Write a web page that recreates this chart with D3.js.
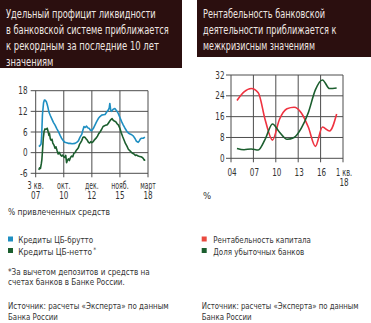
<!DOCTYPE html>
<html><head><meta charset="utf-8">
<script src="https://cdn.jsdelivr.net/npm/d3@7"></script>
<style>body{margin:0;background:#fff}svg{display:block}</style></head>
<body><svg id="c" width="371" height="323"></svg>
<script>
const FONT = '"Liberation Sans Narrow","DejaVu Sans Condensed","Roboto",sans-serif';

// ---------- Left chart data ----------
const leftTickLabels = [["3 кв.","07"],["окт.","10"],["дек.","12"],["нояб.","15"],["март","18"]];
const leftYTicks = [-6,0,6,12,18];
const grossX = [0.11,0.15,0.19,0.21,0.24,0.28,0.31,0.34,0.38,0.41,0.44,0.47,0.52,0.57,0.63,0.69,0.75,0.81,0.87,0.92,0.98,1.04,1.10,1.16,1.22,1.30,1.40,1.46,1.52,1.58,1.64,1.68,1.72,1.76,1.81,1.86,1.91,1.95,1.99,2.05,2.11,2.17,2.23,2.29,2.35,2.41,2.47,2.53,2.58,2.62,2.64,2.67,2.70,2.76,2.82,2.88,2.94,3.00,3.06,3.12,3.18,3.24,3.30,3.36,3.42,3.48,3.53,3.59,3.65,3.69,3.73,3.77,3.83,3.89];
const grossY = [1.8,2.0,2.5,4.5,11.0,14.5,15.3,15.2,14.8,14.0,13.0,11.8,10.8,9.9,8.8,8.0,7.0,6.1,5.0,4.2,3.5,3.0,2.9,2.7,2.7,2.6,2.7,3.0,3.4,4.5,5.3,6.5,7.6,7.3,7.7,7.2,7.0,6.5,6.4,7.0,8.0,9.0,9.9,10.5,10.9,11.0,11.1,11.8,12.3,13.0,14.3,12.4,12.0,12.6,12.8,12.2,11.4,10.2,9.0,8.0,7.1,6.3,5.7,5.4,5.2,4.8,4.2,3.3,3.0,3.4,4.0,4.2,4.2,4.5];
const netX = [0.11,0.14,0.17,0.20,0.22,0.25,0.27,0.30,0.33,0.37,0.41,0.44,0.47,0.49,0.52,0.55,0.58,0.61,0.65,0.69,0.72,0.76,0.80,0.84,0.88,0.92,0.96,1.00,1.04,1.07,1.10,1.13,1.17,1.20,1.24,1.28,1.32,1.36,1.40,1.44,1.48,1.52,1.56,1.60,1.64,1.68,1.72,1.76,1.80,1.84,1.88,1.92,1.96,2.00,2.05,2.10,2.15,2.20,2.25,2.30,2.35,2.40,2.45,2.50,2.55,2.60,2.64,2.68,2.72,2.76,2.80,2.85,2.90,2.95,3.00,3.05,3.10,3.15,3.20,3.25,3.30,3.35,3.40,3.45,3.50,3.55,3.60,3.65,3.70,3.75,3.80,3.84,3.87,3.90];
const netY = [-5.0,-4.4,-4.6,-3.2,-2.0,1.5,4.2,6.2,6.9,6.8,7.1,6.2,5.0,5.6,4.0,3.6,3.9,2.8,2.2,1.3,1.7,0.6,-0.4,0.1,-0.6,-1.0,-0.7,-1.2,-1.4,-0.8,-2.9,-2.2,-1.8,-2.3,-1.4,-1.0,-1.2,-0.2,0.0,0.6,1.0,1.4,2.4,2.9,3.5,4.4,4.6,4.4,4.0,3.6,3.0,2.8,3.2,2.9,3.2,3.8,4.2,4.8,5.6,6.1,6.8,7.6,7.8,8.0,8.1,8.7,9.2,9.6,9.9,9.4,9.2,9.0,8.4,8.0,7.0,5.7,4.6,3.6,2.6,1.9,1.0,0.6,0.2,-0.2,-0.4,-0.8,-0.7,-1.0,-1.1,-1.2,-1.4,-1.8,-2.2,-2.0];

// ---------- Right chart data ----------
const rightYears = [2004.8,2005.75,2006.7,2007.65,2008.6,2009.55,2010.5,2011.5,2012.45,2013.4,2014.35,2015.3,2016.25,2017.2,2018.15];
const roe = [22.2,25.5,26.8,25.2,14.5,7.0,15.0,19.0,19.6,17.5,12.0,4.6,12.0,10.5,17.0];
const lossShare = [3.8,3.3,3.6,3.2,7.5,13.2,10.0,7.3,8.0,11.5,17.5,26.3,30.1,26.8,27.0];
const rightTickYears = [2004,2007,2010,2013,2016,2019];
const rightTickLabels = [["04"],["07"],["10"],["13"],["16"],["1 кв.","18"]];
const rightYTicks = [0,8,16,24,32];

const C = {blue:"#1f8fc2", dgreen:"#1b5e2e", red:"#ef3340", grid:"#4d4d4d", text:"#333", title:"#2b0f0f"};

const svg = d3.select("#c");
svg.append("rect").attr("width",371).attr("height",323).attr("fill","#fff");

function labW(s) {
  let w = 0;
  for (const ch of s) w += (ch === " ") ? 2 : (ch === "." ? 1.8 : (/[0-9]/.test(ch) ? 4.6 : (ch === "-" ? 3 : 3.9)));
  return w;
}
// text squeezed horizontally to width w via a transform (keeps real bounding box)
function txt(g, x, y, s, o={}) {
  const gg = g.append("g").attr("transform",`translate(${x},${y})`);
  const t = gg.append("text").attr("x",0).attr("y",0)
    .attr("font-family",FONT).attr("font-size",o.size||10)
    .attr("fill",o.fill||C.text).attr("text-anchor",o.anchor||"start").text(s);
  if (o.w) {
    const nat = t.node().getComputedTextLength();
    if (nat > 0) gg.attr("transform",`translate(${x},${y}) scale(${o.w/nat},1)`);
  }
  return t;
}

// ---------- Titles ----------
svg.append("rect").attr("x",0).attr("y",0).attr("width",182).attr("height",68).attr("fill",C.title);
svg.append("rect").attr("x",197).attr("y",0).attr("width",174).attr("height",57).attr("fill",C.title);
const tl = [["Удельный профицит ликвидности",150],["в банковской системе приближается",163],["к рекордным за последние 10 лет",153],["значениям",47.5]];
tl.forEach((d,i)=>txt(svg,6,17.5+i*16,d[0],{size:11.5,fill:"#eee6e2",w:d[1]}));
const tr = [["Рентабельность банковской",122],["деятельности приближается к",133.5],["межкризисным значениям",112]];
tr.forEach((d,i)=>txt(svg,203,17.5+i*16,d[0],{size:11.5,fill:"#eee6e2",w:d[1]}));

// ---------- Left chart ----------
const xL = d3.scaleLinear().domain([0,4]).range([35.7,148]);
const yL = d3.scaleLinear().domain([-6,18]).range([173.3,90.7]);
const gL = svg.append("g");
leftYTicks.forEach(v=>{
  gL.append("line").attr("x1",xL(0)-5).attr("x2",xL(4)).attr("y1",yL(v)).attr("y2",yL(v))
    .attr("stroke",C.grid).attr("stroke-width",1);
  txt(gL,27.5,yL(v)+3.6,String(v),{size:10.5,anchor:"end",w:labW(String(v))});
});
leftTickLabels.forEach((lab,i)=>{
  gL.append("line").attr("x1",xL(i)).attr("x2",xL(i)).attr("y1",yL(18)).attr("y2",yL(-6)+4)
    .attr("stroke",C.grid).attr("stroke-width",1);
  lab.forEach((s,j)=>txt(gL,xL(i),188.5+j*10,s,{size:10,anchor:"middle",w:labW(s)}));
});
const lineL = d3.line().x(d=>xL(d[0])).y(d=>yL(d[1]));
gL.append("path").datum(grossX.map((x,i)=>[x,grossY[i]])).attr("d",lineL)
  .attr("fill","none").attr("stroke",C.blue).attr("stroke-width",1.6).attr("stroke-linejoin","round");
gL.append("path").datum(netX.map((x,i)=>[x,netY[i]])).attr("d",lineL)
  .attr("fill","none").attr("stroke",C.dgreen).attr("stroke-width",1.6).attr("stroke-linejoin","round");

// ---------- Right chart ----------
const xR = d3.scaleLinear().domain([2004,2019]).range([231,343]);
const yR = d3.scaleLinear().domain([0,32]).range([158.3,75]);
const gR = svg.append("g");
rightYTicks.forEach(v=>{
  gR.append("line").attr("x1",xR(2004)-5).attr("x2",xR(2019)).attr("y1",yR(v)).attr("y2",yR(v))
    .attr("stroke",C.grid).attr("stroke-width",1);
  txt(gR,224.5,yR(v)+3.6,String(v),{size:10.5,anchor:"end",w:labW(String(v))});
});
rightTickYears.forEach((yr,i)=>{
  gR.append("line").attr("x1",xR(yr)).attr("x2",xR(yr)).attr("y1",yR(32)).attr("y2",yR(0)+4)
    .attr("stroke",C.grid).attr("stroke-width",1);
  rightTickLabels[i].forEach((s,j)=>txt(gR,xR(yr)+1,175.5+j*10,s,{size:10,anchor:"middle",w:labW(s)}));
});
const lineR = d3.line().x((d,i)=>xR(rightYears[i])).y(d=>yR(d)).curve(d3.curveMonotoneX);
gR.append("path").datum(roe).attr("d",lineR).attr("fill","none").attr("stroke",C.red).attr("stroke-width",1.6);
gR.append("path").datum(lossShare).attr("d",lineR).attr("fill","none").attr("stroke",C.dgreen).attr("stroke-width",1.6);

// ---------- Notes & legends ----------
txt(svg,8,215,"% привлеченных средств",{size:9.5,w:102});
svg.append("rect").attr("x",8).attr("y",236.5).attr("width",5).attr("height",5).attr("fill",C.blue);
txt(svg,18.3,243,"Кредиты ЦБ-брутто",{size:9.5,w:75});
svg.append("rect").attr("x",8).attr("y",248).attr("width",5).attr("height",5).attr("fill",C.dgreen);
txt(svg,18.3,254.5,"Кредиты ЦБ-нетто",{size:9.5,w:74});
txt(svg,93.2,252,"*",{size:6.5});
txt(svg,8,274.5,"*За вычетом депозитов и средств на",{size:9.5,w:142});
txt(svg,8,285,"счетах банков в Банке России.",{size:9.5,w:117});
txt(svg,8,308.5,"Источник: расчеты «Эксперта» по данным",{size:9.5,w:161});
txt(svg,8,319.5,"Банка России",{size:9.5,w:50});

txt(svg,203,199,"%",{size:9.5});
svg.append("rect").attr("x",201.7).attr("y",236.5).attr("width",5).attr("height",5).attr("fill","#ea4a3f");
txt(svg,213.3,243,"Рентабельность капитала",{size:9.5,w:97.7});
svg.append("rect").attr("x",201.7).attr("y",248).attr("width",5).attr("height",5).attr("fill",C.dgreen);
txt(svg,213.3,254.5,"Доля убыточных банков",{size:9.5,w:91});
txt(svg,201.7,308.5,"Источник: расчеты «Эксперта» по данным",{size:9.5,w:157});
txt(svg,201.7,320,"Банка России",{size:9.5,w:50});
</script></body></html>
